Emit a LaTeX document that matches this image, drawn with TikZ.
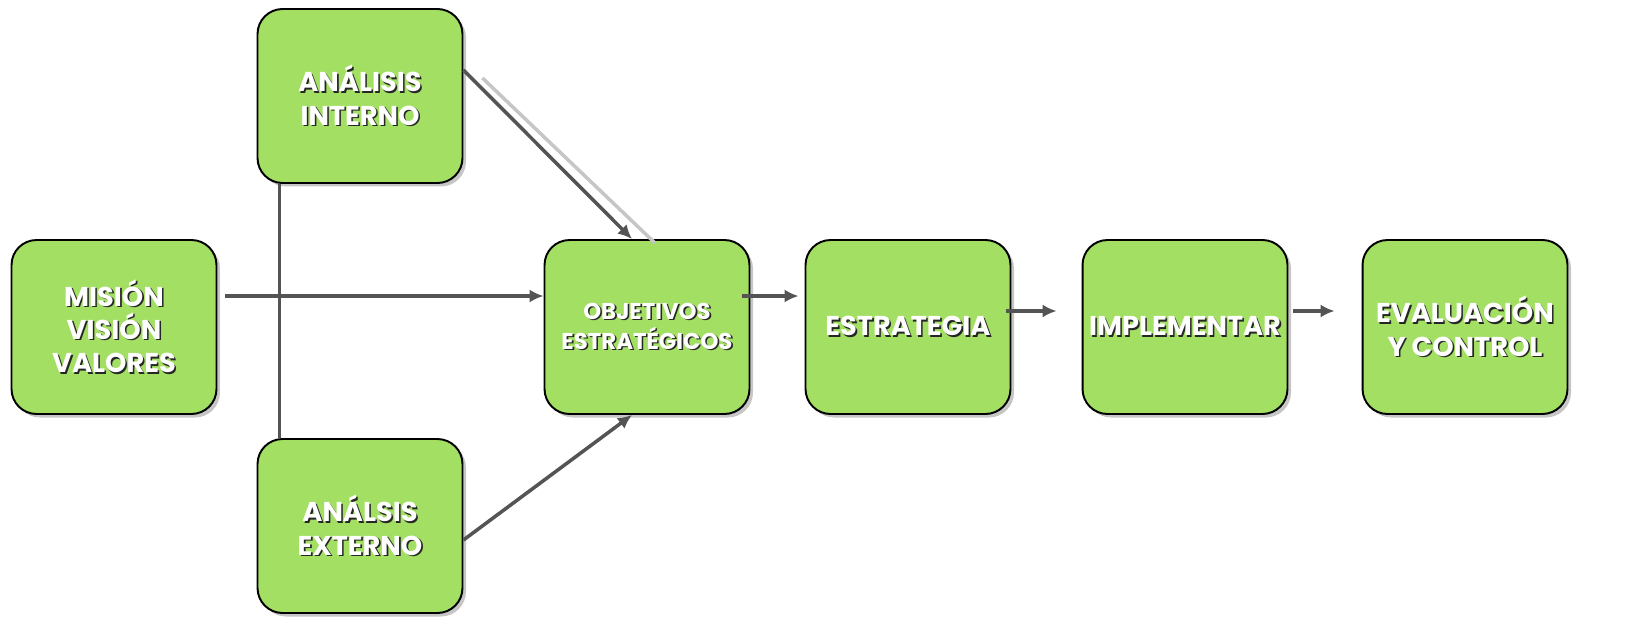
\documentclass[tikz,border=0pt]{standalone}
\usepackage{fontspec}
\setmainfont{Poppins}
\usepackage{xcolor}
\usetikzlibrary{arrows,arrows.meta}
\usetikzlibrary{shapes,positioning,calc,shadows}
\definecolor{verde}{HTML}{A2DF62}
\definecolor{flecha}{HTML}{545454}
\newcommand{\sombra}[1]{\leavevmode\rlap{\kern0.9pt\raisebox{-0.9pt}{\color{black!85}#1}}#1}

\begin{document}
\begin{tikzpicture}[>={Latex[length=8pt, width=7.5pt]}, x=0.02cm, y=-0.02cm,
	caja/.style={draw=black, line width=1.1pt, fill=verde, rounded corners=0.5cm,
		minimum width=4.1cm, minimum height=3.48cm, inner xsep=1pt, align=center, text=white,
		font=\bfseries\fontsize{15.5}{19}\selectfont,
		drop shadow={opacity=0.45, shadow xshift=2pt, shadow yshift=-2pt}},
	linea/.style={draw=flecha, line width=2pt}]
	\useasboundingbox (0,0) rectangle (1642,642);

	\node[caja] (mision) at (114,327) {\sombra{MISIÓN}\\\sombra{VISIÓN}\\\sombra{VALORES}};
	\node[caja] (interno) at (360,96) {\sombra{ANÁLISIS}\\\sombra{INTERNO}};
	\node[caja] (externo) at (360,526) {\sombra{ANÁLSIS}\\\sombra{EXTERNO}};
	\node[caja, font=\bfseries\fontsize{13}{17}\selectfont] (obj) at (647,327) {\sombra{OBJETIVOS}\\\sombra{ESTRATÉGICOS}};
	\node[caja] (est) at (908,327) {\sombra{ESTRATEGIA}};
	\node[caja] (imp) at (1185,327) {\sombra{IMPLEMENTAR}};
	\node[caja] (eva) at (1465,327) {\sombra{EVALUACIÓN}\\\sombra{Y CONTROL}};

	\draw[linea] ([xshift=0.46cm]interno.south west) -- ([xshift=0.46cm]externo.north west);
	\draw[draw=gray!45, line width=2pt] ([shift={(0.38cm,0.36cm)}]interno.east) -- ([shift={(0.16cm,-0.08cm)}]obj.north);
	\draw[linea, ->] ([yshift=0.52cm]interno.east) -- ([xshift=-0.3cm]obj.north);
	\draw[linea, ->] ([yshift=-0.28cm]externo.east) -- ([xshift=-0.3cm]obj.south);
	\draw[linea, ->] ([shift={(0.16cm,0.62cm)}]mision.east) -- ([yshift=0.62cm]obj.west);
	\draw[linea, ->] ([shift={(-0.16cm,0.62cm)}]obj.east) -- ([shift={(-0.12cm,0.62cm)}]est.west);
	\draw[linea, ->] ([shift={(-0.1cm,0.32cm)}]est.east) -- ([shift={(-0.5cm,0.32cm)}]imp.west);
	\draw[linea, ->] ([shift={(0.1cm,0.32cm)}]imp.east) -- ([shift={(-0.54cm,0.32cm)}]eva.west);
\end{tikzpicture}
\end{document}
